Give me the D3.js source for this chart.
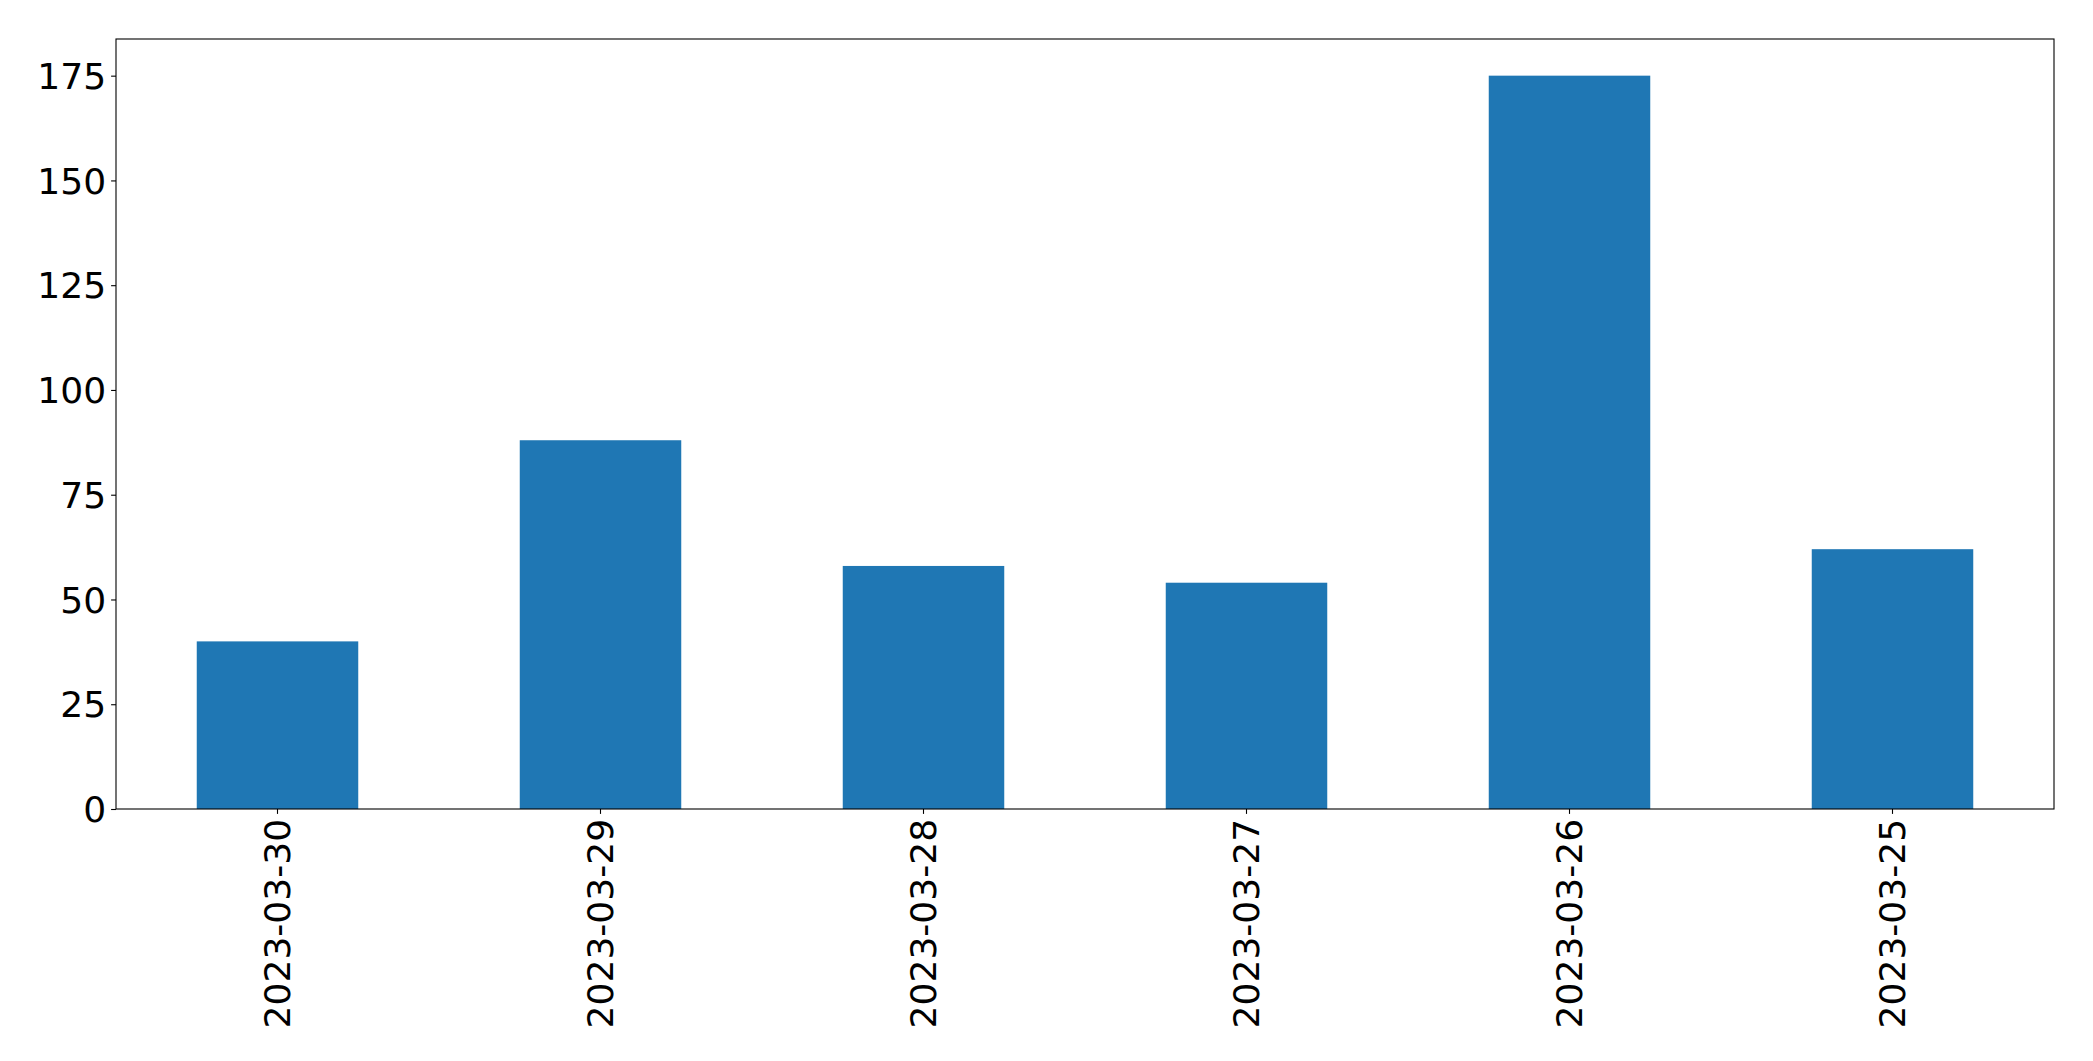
<!DOCTYPE html>
<html>
<head>
<meta charset="utf-8">
<script src="https://cdn.jsdelivr.net/npm/d3@7"></script>
<style>
html, body { margin: 0; padding: 0; background: #fff; }
svg { display: block; }
text { font-family: "DejaVu Sans", sans-serif; fill: #000; }
</style>
</head>
<body>
<svg id="chart" width="2093" height="1061"></svg>
<script>
const categories = ["2023-03-30", "2023-03-29", "2023-03-28", "2023-03-27", "2023-03-26", "2023-03-25"];
const values = [40, 88, 58, 54, 175, 62];
const yTicks = [0, 25, 50, 75, 100, 125, 150, 175];

const W = 2093, H = 1061;
const margin = { left: 116, top: 39, right: W - 2054, bottom: H - 809 };
const svg = d3.select("#chart");
const iw = W - margin.left - margin.right;
const ih = H - margin.top - margin.bottom;
const g = svg.append("g").attr("transform", `translate(${margin.left},${margin.top})`);

const x = d3.scaleBand().domain(categories).range([0, iw]).paddingInner(0.5).paddingOuter(0.25);
const yMax = d3.max(values) * 1.05;
const y = d3.scaleLinear().domain([0, yMax]).range([ih, 0]);

g.selectAll("rect.bar").data(values).enter().append("rect")
  .attr("class", "bar")
  .attr("x", (d, i) => x(categories[i]))
  .attr("y", d => y(d))
  .attr("width", x.bandwidth())
  .attr("height", d => y(0) - y(d))
  .attr("fill", "#1f77b4");

const fs = 36.1;
const yAxis = g.append("g")
  .call(d3.axisLeft(y).tickValues(yTicks).tickSize(4.9).tickPadding(4.9).tickFormat(d3.format("d")));
yAxis.selectAll("text").style("font-size", fs + "px").attr("dy", "0.35em");
yAxis.select(".domain").remove();
yAxis.selectAll("line").attr("stroke", "#000").attr("stroke-width", 1.1);

const xAxis = g.append("g").attr("transform", `translate(0,${ih})`)
  .call(d3.axisBottom(x).tickSize(4.9).tickPadding(0));
xAxis.select(".domain").remove();
xAxis.selectAll("line").attr("stroke", "#000").attr("stroke-width", 1.1);
xAxis.selectAll("text")
  .style("font-size", fs + "px")
  .attr("text-anchor", "end")
  .attr("dy", "0.35em")
  .attr("transform", "translate(0,9.8) rotate(-90)")
  .attr("x", 0).attr("y", 0);

g.append("rect").attr("x", 0).attr("y", 0).attr("width", iw).attr("height", ih)
  .attr("fill", "none").attr("stroke", "#000").attr("stroke-width", 1.1);
</script>
</body>
</html>
